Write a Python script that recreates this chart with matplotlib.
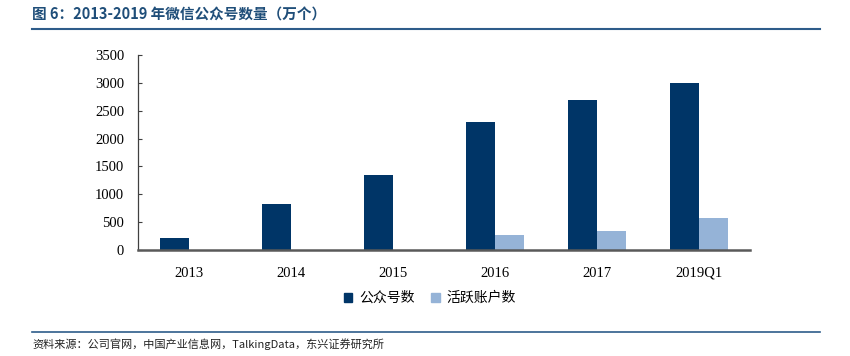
import matplotlib
matplotlib.use("Agg")
import matplotlib.pyplot as plt
import numpy as np
from matplotlib.lines import Line2D

categories = ["2013", "2014", "2015", "2016", "2017", "2019Q1"]
official_accounts = [210, 820, 1350, 2300, 2700, 3000]
active_accounts = [0, 0, 0, 270, 350, 580]
series_names = ["公众号数", "活跃账户数"]
yticks = [0, 500, 1000, 1500, 2000, 2500, 3000, 3500]

title = "图 6：2013-2019 年微信公众号数量（万个）"
source = "资料来源：公司官网，中国产业信息网，TalkingData，东兴证券研究所"

cjk = ["Noto Sans CJK SC", "DejaVu Sans"]
serif = ["Liberation Serif", "Noto Sans CJK SC"]

fig = plt.figure(figsize=(8.5, 3.56), dpi=100)
ax = fig.add_axes([138/850, 1-250/356, (750-138)/850, (250-55)/356])

x = np.arange(len(categories))
w = 0.28
dark = "#003567"
light = "#95B3D7"
ax.bar(x - w/2, official_accounts, w, color=dark, label=series_names[0])
ax.bar(x + w/2, active_accounts, w, color=light, label=series_names[1])

ax.set_xlim(-0.5, len(categories) - 0.5)
ax.set_ylim(0, 3500)
ax.set_yticks(yticks)
ax.set_yticklabels([str(v) for v in yticks], family=serif, fontsize=10.5)
ax.set_xticks(x)
ax.set_xticklabels(categories, family=serif, fontsize=10.5)
for s in ["top", "right"]:
    ax.spines[s].set_visible(False)
ax.spines["left"].set_color("#404040")
ax.spines["left"].set_linewidth(0.9)
ax.spines["bottom"].set_color("#595959")
ax.spines["bottom"].set_linewidth(1.8)
ax.tick_params(axis="y", direction="in", length=3, color="#404040", pad=10)
ax.tick_params(axis="x", length=0, pad=12)

handles = [plt.Rectangle((0, 0), 1, 1, color=dark), plt.Rectangle((0, 0), 1, 1, color=light)]
leg = fig.legend(handles, series_names, loc="center", bbox_to_anchor=(430/850, 1-298/356),
                 ncol=2, frameon=False, prop={"family": cjk, "size": 10},
                 handlelength=0.6, handleheight=0.6, handletextpad=0.5, columnspacing=1.2)

fig.text(32/850, 1-15/356, title, family=cjk, fontsize=10.5, fontweight="bold",
         color="#1F4E79", va="center", ha="left")
fig.add_artist(Line2D([32/850, 820/850], [1-29/356, 1-29/356], color="#2E5C8A", lw=1.5))
fig.add_artist(Line2D([32/850, 820/850], [1-332/356, 1-332/356], color="#2E5C8A", lw=1.2))
fig.text(32/850, 1-344/356, source, family=cjk, fontsize=8, style="italic",
         color="#222222", va="center", ha="left")

fig.savefig("out.png", dpi=100)
